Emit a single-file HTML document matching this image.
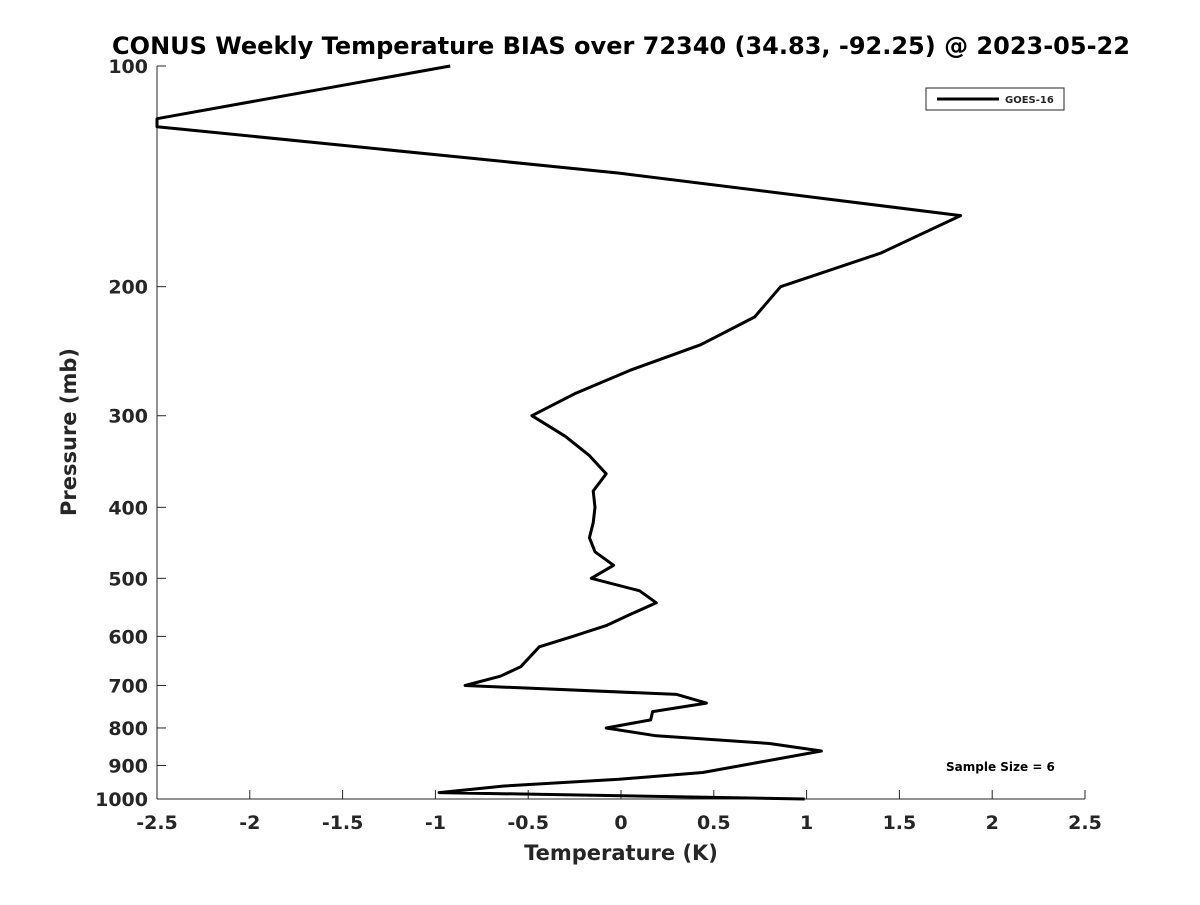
<!DOCTYPE html>
<html><head><meta charset="utf-8"><style>
body{margin:0;background:#fff}
svg text{font-family:"DejaVu Sans","Liberation Sans",sans-serif;font-weight:bold;fill:#262626}
</style></head><body>
<svg id="chart" width="1200" height="900" xmlns="http://www.w3.org/2000/svg">
<rect width="1200" height="900" fill="#fff"/>
<text x="621" y="54" font-size="24" text-anchor="middle" style="fill:#000">CONUS Weekly Temperature BIAS over 72340 (34.83, -92.25) @ 2023-05-22</text>
<g id="axes"></g>
<text x="621" y="860" font-size="21" text-anchor="middle">Temperature (K)</text>
<text transform="translate(76,432) rotate(-90)" font-size="21" text-anchor="middle">Pressure (mb)</text>
<g>
<rect x="926" y="88" width="138" height="22" fill="#fff" stroke="#262626" stroke-width="1"/>
<line x1="937" y1="99" x2="999" y2="99" stroke="#000" stroke-width="3"/>
<text x="1005" y="103" font-size="10">GOES-16</text>
</g>
<text x="946" y="771" font-size="12" style="fill:#000">Sample Size = 6</text>
</svg>
<script>
const temps = [-0.92,-2.5,-2.5,-0.01,1.83,1.40,0.86,0.72,0.43,0.05,-0.25,-0.48,-0.30,-0.17,-0.08,-0.15,-0.14,-0.15,-0.17,-0.14,-0.04,-0.16,0.10,0.19,0.05,-0.08,-0.26,-0.44,-0.54,-0.65,-0.84,0.30,0.46,0.17,0.16,-0.08,0.19,0.80,1.08,0.44,-0.01,-0.63,-0.98,0.99];
const pressures = [100,118,121,140,160,180,200,220,240,260,280,300,320,340,360,380,400,420,440,460,480,500,520,540,560,580,600,620,660,680,700,720,740,760,780,800,820,840,860,920,940,960,980,1000];
const xTicks = [-2.5,-2,-1.5,-1,-0.5,0,0.5,1,1.5,2,2.5];
const yTicks = [100,200,300,400,500,600,700,800,900,1000];
const NS='http://www.w3.org/2000/svg';
const X0=157,X1=1085,Y0=66,Y1=799;
function sx(t){return X0+(t+2.5)/5*(X1-X0);}
function sy(p){return Y0+Math.log10(p/100)*(Y1-Y0);}
const g=document.getElementById('axes');
function mk(tag,attrs){const e=document.createElementNS(NS,tag);for(const k in attrs)e.setAttribute(k,attrs[k]);g.appendChild(e);return e;}
let a=mk('line',{x1:X0,y1:Y0,x2:X0,y2:Y1,stroke:'#262626','stroke-width':1});


a=mk('line',{x1:X0,y1:Y1,x2:X1,y2:Y1,stroke:'#262626','stroke-width':1});


xTicks.forEach(t=>{
  const tk=mk('line',{x1:sx(t),y1:Y1,x2:sx(t),y2:Y1-9,stroke:'#262626','stroke-width':1});
  
  
  const tx=mk('text',{x:sx(t),y:Y1+30,'font-size':19,'text-anchor':'middle'});
  tx.textContent=String(t);
  
  
});
yTicks.forEach(p=>{
  const tk=mk('line',{x1:X0,y1:sy(p),x2:X0+9,y2:sy(p),stroke:'#262626','stroke-width':1});
  
  
  const tx=mk('text',{x:X0-9,y:sy(p)+7,'font-size':19,'text-anchor':'end'});
  tx.textContent=String(p);
  
  
});
const pts=temps.map((t,i)=>sx(t).toFixed(1)+','+sy(pressures[i]).toFixed(1)).join(' ');
const line=mk('polyline',{points:pts,fill:'none',stroke:'#000','stroke-width':3,'stroke-linejoin':'round'});


</script>
</body></html>
